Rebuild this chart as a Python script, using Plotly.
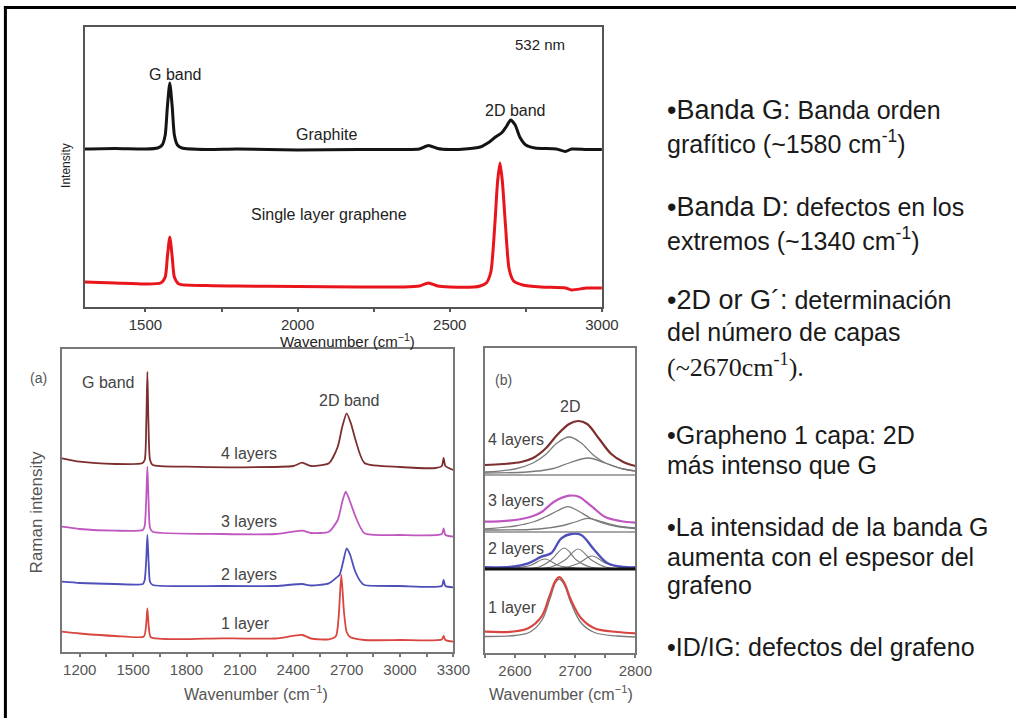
import plotly.graph_objects as go

W, H = 1033, 718

# ---------------- DATA ----------------
# Top panel (532 nm) : graphite and single-layer graphene
top_graphite_x = [1300, 1400, 1500, 1540, 1555, 1565, 1572, 1580, 1588, 1595, 1605, 1620, 1700, 1800,
                  2000, 2200, 2350, 2400, 2430, 2460, 2500, 2550, 2600, 2630, 2650, 2670, 2685, 2700,
                  2715, 2730, 2750, 2780, 2850, 2880, 2900, 2950, 3000]
top_graphite_y = [158, 158.5, 158, 159, 162, 172, 200, 224, 200, 172, 162, 159, 157.5, 158,
                  157, 157.5, 157.5, 158, 161.5, 158.5, 157.5, 158, 160, 165, 170, 174, 180, 187,
                  182, 170, 162, 159, 158, 155.5, 158, 157.5, 157.5]
top_graphene_x = [1300, 1400, 1500, 1550, 1565, 1572, 1580, 1588, 1595, 1610, 1700, 1800, 2000, 2200,
                  2350, 2400, 2430, 2460, 2500, 2580, 2600, 2620, 2635, 2648, 2657, 2665, 2673, 2683,
                  2695, 2710, 2740, 2800, 2880, 2900, 2950, 3000]
top_graphene_y = [25, 24, 23, 24, 30, 50, 70, 50, 30, 23, 21.5, 21, 20.5, 20,
                  20, 21, 24, 21, 20, 20, 21, 24, 35, 82, 125, 144, 125, 82,
                  38, 26, 22, 20, 19, 17, 19, 19]

# Panel (a) : 1-4 layers, 1100-3300 cm-1
a4_x = [1100, 1200, 1400, 1550, 1565, 1574, 1580, 1586, 1595, 1610, 1800, 2100, 2400, 2450, 2500,
        2600, 2650, 2675, 2700, 2725, 2750, 2800, 3000, 3200, 3235, 3245, 3255, 3300]
a4_y = [193.7, 190.3, 188, 188.7, 192, 230, 280.3, 230, 192, 187, 185.3, 184.7, 186, 189.3, 186,
        188.7, 205.3, 225, 238.7, 228, 212, 189, 185, 184, 186, 194, 186, 182]
a3_x = [1100, 1200, 1400, 1555, 1565, 1573, 1580, 1587, 1595, 1610, 2000, 2300, 2450, 2500,
        2600, 2650, 2675, 2695, 2720, 2750, 2800, 3000, 3235, 3245, 3255, 3300]
a3_y = [125.3, 123, 121.3, 122, 126, 150, 185.3, 150, 124, 120.3, 118, 118, 121.3, 119,
        120.3, 132, 150, 160.3, 150, 135.3, 118.7, 117, 118, 123.7, 117, 115.3]
a2_x = [1100, 1200, 1400, 1555, 1565, 1573, 1580, 1587, 1595, 1610, 2000, 2300, 2450, 2500,
        2600, 2640, 2660, 2680, 2700, 2720, 2745, 2780, 2800, 3000, 3235, 3245, 3255, 3300]
a2_y = [70.3, 69, 68, 68, 72, 90, 117, 90, 70, 67, 66, 66, 68, 66.5,
        68.7, 74, 77, 90, 103.7, 97, 82, 70, 67, 66, 66, 72, 66, 64.7]
a1_x = [1100, 1200, 1400, 1560, 1572, 1580, 1588, 1600, 2000, 2300, 2450, 2500,
        2600, 2640, 2655, 2670, 2685, 2700, 2720, 2800, 3000, 3235, 3245, 3255, 3300]
a1_y = [20.3, 18.5, 16, 15.5, 25, 43.7, 25, 14.7, 13.7, 13.5, 17, 13.5,
        12.7, 16, 35, 77, 40, 20, 15, 12, 12, 12.5, 16, 12, 10.3]

# Panel (b) : 2D band detail with fitted components
b4_x = [2550, 2580, 2610, 2630, 2650, 2670, 2690, 2705, 2720, 2740, 2760, 2780, 2800]
b4_y = [188, 189, 191, 195, 204, 218, 229, 232, 229, 214, 199, 191, 187]
b4_c1_x = [2550, 2600, 2630, 2650, 2670, 2690, 2710, 2730, 2750, 2780, 2800]
b4_c1_y = [181, 184, 190, 198, 210, 216, 210, 198, 190, 184, 182]
b4_c2_x = [2550, 2620, 2660, 2690, 2722, 2750, 2780, 2800]
b4_c2_y = [180, 181, 184, 190, 195, 190, 184, 182]

b3_x = [2550, 2600, 2630, 2645, 2665, 2690, 2706, 2728, 2750, 2775, 2800]
b3_y = [131.3, 133, 137, 141.3, 151.3, 157.3, 156.3, 146.3, 136, 132, 130.3]
b3_c1_x = [2550, 2600, 2630, 2650, 2670, 2688, 2705, 2725, 2745, 2770, 2800]
b3_c1_y = [124, 127, 131, 136, 142, 146.3, 142, 135, 130, 126.5, 124.5]
b3_c2_x = [2550, 2640, 2680, 2700, 2721, 2745, 2770, 2800]
b3_c2_y = [123, 124, 127.5, 131, 134.7, 131, 127, 125]

b2_x = [2550, 2595, 2622, 2644, 2660, 2677, 2693, 2710, 2732, 2754, 2780, 2800]
b2_y = [85.7, 86.3, 89.7, 96.3, 99.7, 114.7, 119, 118, 103, 89.7, 86, 85.7]
b2_cA_x = [2550, 2600, 2625, 2650, 2672, 2700, 2800]
b2_cA_y = [84, 85, 87.5, 94, 87.5, 85, 84]
b2_cB_x = [2550, 2640, 2660, 2682, 2702, 2725, 2800]
b2_cB_y = [84, 86, 93, 105, 93, 86, 84]
b2_cC_x = [2550, 2660, 2683, 2705, 2727, 2750, 2800]
b2_cC_y = [84, 86, 93, 104, 93, 86, 84]
b2_cD_x = [2550, 2680, 2705, 2728, 2752, 2780, 2800]
b2_cD_y = [84, 85, 89.5, 97, 89.5, 85, 84]

b1_x = [2550, 2595, 2622, 2644, 2657, 2668, 2674, 2682, 2693, 2710, 2732, 2770, 2800]
b1_y = [21.3, 21.3, 24.7, 36.3, 56.3, 73, 76, 70, 53, 34.7, 24.7, 21, 19.7]
b1_fit_x = [2550, 2600, 2625, 2645, 2658, 2668, 2674, 2682, 2693, 2710, 2732, 2770, 2800]
b1_fit_y = [16.5, 17.5, 21, 33, 54, 71, 74, 68, 50, 30, 20.5, 17, 16]

b_separators = [178, 121]
b_base_line = 84

top_ticks = [1500, 2000, 2500, 3000]
a_ticks = [1200, 1500, 1800, 2100, 2400, 2700, 3000, 3300]
b_ticks = [2600, 2700, 2800]

# (header, rest, y-centre in px, font family)
bullets = [
    ("•Banda G:", " Banda orden", 110, "sans"),
    ("", "grafítico (~1580 cm<sup>-1</sup>)", 142, "sans"),
    ("•Banda D:", " defectos en los", 207, "sans"),
    ("", "extremos (~1340 cm<sup>-1</sup>)", 239, "sans"),
    ("•2D or G´:", " determinación", 300, "sans"),
    ("", "del número de capas", 332, "sans"),
    ("", "(~2670cm<sup>-1</sup>).", 365, "serif"),
    ("", "•Grapheno 1 capa: 2D", 435, "sans"),
    ("", "más intenso que G", 465, "sans"),
    ("", "•La intensidad de la banda G", 527, "sans"),
    ("", "aumenta con el espesor del", 557, "sans"),
    ("", "grafeno", 585, "sans"),
    ("", "•ID/IG: defectos del grafeno", 647, "sans"),
]

# ---------------- FIGURE ----------------
def px(x):
    return x / W

def py(y):
    return 1 - y / H

SANS = "Liberation Sans, Arial, sans-serif"
SERIF = "Liberation Serif, Times New Roman, serif"

fig = go.Figure()

def line(x, y, color, width, xa, ya, shape="linear", smoothing=1.0):
    ln = dict(color=color, width=width, shape=shape)
    if shape == "spline":
        ln["smoothing"] = smoothing
    fig.add_trace(go.Scatter(x=x, y=y, mode="lines", xaxis=xa, yaxis=ya, line=ln,
                             showlegend=False, hoverinfo="skip"))

# top panel
line(top_graphite_x, top_graphite_y, "#141414", 3, "x", "y", "spline", 0.6)
line(top_graphene_x, top_graphene_y, "#e8161c", 3, "x", "y", "spline", 0.6)

# panel (a)
line(a4_x, a4_y, "#7d2f2f", 1.8, "x2", "y2", "spline", 0.6)
line(a3_x, a3_y, "#c057c0", 1.8, "x2", "y2", "spline", 0.6)
line(a2_x, a2_y, "#4f4fba", 1.8, "x2", "y2", "spline", 0.6)
line(a1_x, a1_y, "#d8463f", 1.8, "x2", "y2", "spline", 0.6)

# panel (b)
GRAY = "#7a7a7a"
line(b4_c1_x, b4_c1_y, GRAY, 1.3, "x3", "y3", "spline")
line(b4_c2_x, b4_c2_y, GRAY, 1.3, "x3", "y3", "spline")
line(b4_x, b4_y, "#7d2f2f", 2.2, "x3", "y3", "spline")
line(b3_c1_x, b3_c1_y, GRAY, 1.3, "x3", "y3", "spline")
line(b3_c2_x, b3_c2_y, GRAY, 1.3, "x3", "y3", "spline")
line(b3_x, b3_y, "#c057c0", 2.2, "x3", "y3", "spline")
for cx, cy in [(b2_cA_x, b2_cA_y), (b2_cB_x, b2_cB_y), (b2_cC_x, b2_cC_y), (b2_cD_x, b2_cD_y)]:
    line(cx, cy, GRAY, 1.2, "x3", "y3", "spline")
line(b2_x, b2_y, "#4f4fba", 2.4, "x3", "y3", "spline")
line(b1_fit_x, b1_fit_y, GRAY, 1.3, "x3", "y3", "spline")
line(b1_x, b1_y, "#d8463f", 2.2, "x3", "y3", "spline")

shapes = []
for s in b_separators:
    shapes.append(dict(type="line", xref="x3 domain", yref="y3", x0=0, x1=1, y0=s, y1=s,
                       line=dict(color="#8a8a8a", width=1.5)))
shapes.append(dict(type="line", xref="x3 domain", yref="y3", x0=0, x1=1, y0=b_base_line, y1=b_base_line,
                   line=dict(color="#111111", width=3)))
# outer slide frame
shapes.append(dict(type="line", xref="paper", yref="paper", x0=px(4), x1=1, y0=py(7.5), y1=py(7.5),
                   line=dict(color="black", width=3)))
shapes.append(dict(type="line", xref="paper", yref="paper", x0=px(5.5), x1=px(5.5), y0=0, y1=py(6),
                   line=dict(color="black", width=3)))

tickfont_top = dict(family=SANS, size=15, color="#333")
tickfont_ab = dict(family=SANS, size=15, color="#555")

def xaxis(rng, dom_x, dom_y_anchor, ticks, minor, tickfont, lc, lw):
    return dict(range=rng, domain=dom_x, anchor=dom_y_anchor, showgrid=False, zeroline=False,
                showline=True, mirror=True, linecolor=lc, linewidth=lw,
                ticks="outside", ticklen=3, tickwidth=1.5, tickcolor=lc,
                tickvals=ticks, tickfont=tickfont,
                minor=dict(dtick=minor, ticks="outside", ticklen=3, tickwidth=1.5, tickcolor=lc,
                           tick0=ticks[0]))

def yaxis(rng, dom_y, anchor, lc, lw):
    return dict(range=rng, domain=dom_y, anchor=anchor, showgrid=False, zeroline=False,
                showline=True, mirror=True, linecolor=lc, linewidth=lw,
                showticklabels=False, ticks="")

fig.update_layout(
    width=W, height=H, margin=dict(l=0, r=0, t=0, b=0),
    paper_bgcolor="white", plot_bgcolor="white", showlegend=False,
    xaxis=xaxis([1300, 3000], [px(86), px(612)], "y", top_ticks, 250, tickfont_top, "#555", 2),
    yaxis=yaxis([0, 280], [py(307), py(27)], "x", "#555", 2),
    xaxis2=xaxis([1100, 3300], [px(63), px(461)], "y2", a_ticks, 150, tickfont_ab, "#777", 1.5),
    yaxis2=yaxis([0, 303], [py(652), py(349)], "x2", "#777", 1.5),
    xaxis3=xaxis([2550, 2800], [px(493), px(646)], "y3", b_ticks, 50, tickfont_ab, "#777", 1.5),
    yaxis3=yaxis([0, 305], [py(653), py(348)], "x3", "#777", 1.5),
    shapes=shapes,
)

ann = []
def text(t, x, y, size, color="#333", family=SANS, angle=0, xanchor="center"):
    ann.append(dict(text=t, x=px(x), y=py(y), xref="paper", yref="paper", showarrow=False,
                    xanchor=xanchor, yanchor="middle", textangle=angle,
                    font=dict(family=family, size=size, color=color)))

# top panel labels
text("532 nm", 549, 45, 15, "#222")
text("G band", 178, 74, 16, "#222")
text("2D band", 524, 110, 16, "#222")
text("Graphite", 332, 134, 16, "#222")
text("Single layer graphene", 335, 215, 16, "#222")
text("Intensity", 67, 165, 12, "#222", angle=-90)
text("Wavenumber (cm<sup>−1</sup>)", 353, 341, 15, "#222")

# panel (a) labels
text("(a)", 39, 378, 14, "#555")
text("G band", 110, 382, 16, "#444")
text("2D band", 355, 400, 16, "#444")
text("4 layers", 253, 453, 16, "#444")
text("3 layers", 253, 521, 16, "#444")
text("2 layers", 253, 574, 16, "#444")
text("1 layer", 250, 623, 16, "#444")
text("Raman intensity", 37, 512, 17, "#555", angle=-90)
text("Wavenumber (cm<sup>−1</sup>)", 260, 693, 16, "#555")

# panel (b) labels
text("(b)", 512, 380, 14, "#555")
text("2D", 580, 406, 16, "#444")
text("4 layers", 525, 439, 16, "#444")
text("3 layers", 525, 500, 16, "#444")
text("2 layers", 525, 548, 16, "#444")
text("1 layer", 521, 607, 16, "#444")
text("Wavenumber (cm<sup>−1</sup>)", 570, 693, 16, "#555")

# right-hand bullet text
for head, rest, y, fam in bullets:
    if fam == "serif":
        text(rest, 676, y, 26, "#1a1a1a", family=SERIF, xanchor="left")
    else:
        t = (f'<span style="font-size:27px">{head}</span>' if head else "") + rest
        text(t, 676, y, 25, "#1a1a1a", xanchor="left")

fig.update_layout(annotations=ann)
fig.write_html("out.html")
